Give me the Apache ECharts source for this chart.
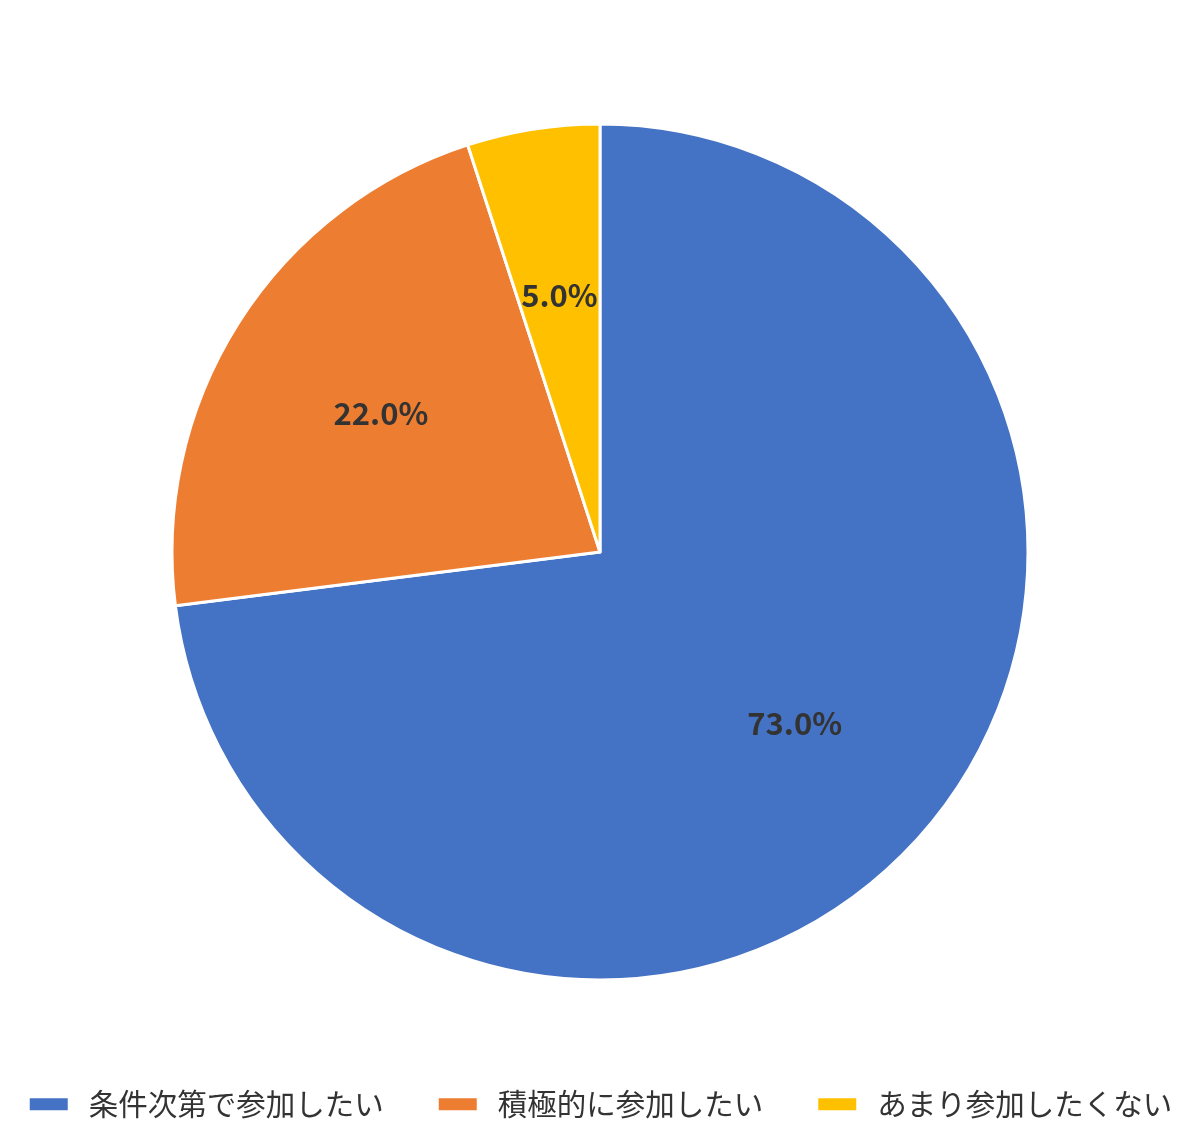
<!DOCTYPE html>
<html>
<head>
<meta charset="utf-8">
<script src="https://cdn.jsdelivr.net/npm/echarts@6/dist/echarts.min.js"></script>
<style>
  html, body { margin: 0; padding: 0; background: #fff; }
  #chart { width: 1200px; height: 1148px; }
</style>
</head>
<body>
<div id="chart"></div>
<script>
// 回答の分類と割合（%）
const categories = ["条件次第で参加したい", "積極的に参加したい", "あまり参加したくない"];
const values = [73.0, 22.0, 5.0];
const colors = ["#4472C4", "#ED7D31", "#FFC000"];

const font = '"Noto Sans CJK JP", "Noto Sans", sans-serif';
const pieData = categories.map((name, i) => ({
  name: name,
  value: values[i],
  itemStyle: { color: colors[i] }
}));

const chart = echarts.init(document.getElementById("chart"));
chart.setOption({
  animation: false,
  color: colors,
  legend: {
    bottom: 24,
    left: "center",
    icon: "rect",
    itemWidth: 40,
    itemHeight: 14,
    itemGap: 53,
    textStyle: { fontFamily: font, fontSize: 29.5, color: "#333", padding: [0, 0, 0, 15] },
    data: categories
  },
  series: [
    {
      type: "pie",
      center: [600, 552],
      radius: 428,
      startAngle: 90,
      clockwise: true,
      itemStyle: { borderColor: "#fff", borderWidth: 3 },
      label: { show: false },
      labelLine: { show: false },
      data: pieData
    },
    {
      // ラベル位置調整用（半径の 0.6 の位置に表示）
      type: "pie",
      center: [600, 552],
      radius: 513,
      startAngle: 90,
      clockwise: true,
      silent: true,
      itemStyle: { color: "transparent", borderWidth: 0 },
      label: {
        show: true,
        position: "inside",
        formatter: p => p.value.toFixed(1) + "%",
        fontFamily: font,
        fontSize: 31,
        fontWeight: "bold",
        color: "#333"
      },
      labelLine: { show: false },
      data: categories.map((name, i) => ({ name: name, value: values[i] }))
    }
  ]
});
</script>
</body>
</html>
